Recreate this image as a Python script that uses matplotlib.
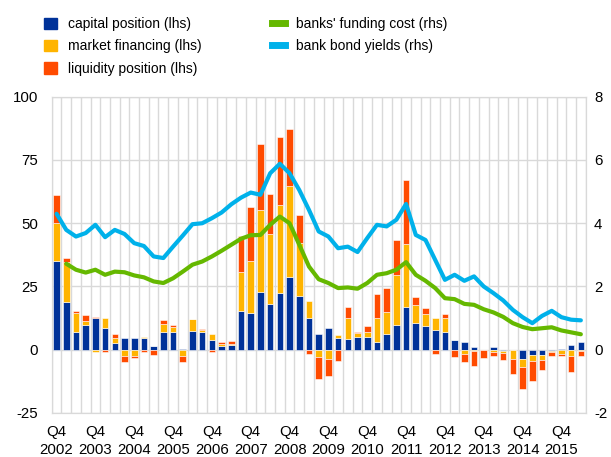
import matplotlib.pyplot as plt
import numpy as np
from matplotlib.lines import Line2D
from matplotlib.patches import Patch

plt.rcParams['font.family'] = ['Liberation Sans', 'DejaVu Sans']
plt.rcParams['axes.unicode_minus'] = False

# quarterly data, Q4 2002 .. Q2 2016
capital = [35, 19, 7, 9.9, 12.5, 8.4, 2.6, 4.5, 4.7, 4.5,
           1.6, 7.1, 7.1, 0.3, 7.5, 7.1, 3.7, 1.6, 2.0, 15.5,
           14.7, 23, 18.2, 22.6, 28.8, 21.3, 12.6, 6.2, 8.7, 4.7,
           4.2, 4.9, 5.1, 3.2, 6.2, 9.9, 16.7, 10.7, 9.3, 7.8,
           7.1, 3.9, 3.1, 1.2, 0.0, 1.0, -0.6, 0.0, -3.5, -2.0,
           -2.0, -0.3, 0.3, 1.8, 3.0]
market = [15, 15.5, 7.7, 1.6, -1.0, 4.1, 1.9, -2.6, -2.6, 0.5,
          0.0, 3.2, 2.0, -2.4, 4.7, 0.8, 2.5, 0.8, 0.4, 15.3,
          20.4, 32.3, 27.6, 34.8, 35.9, 20.8, 6.6, -3.0, -3.7, 1.1,
          8.2, 1.7, 2.0, 9.3, 8.8, 19.7, 25.1, 6.9, 4.8, 4.6,
          5.3, 0.0, -1.6, -0.5, 0.0, -0.9, -0.6, -3.8, -3.2, -2.3,
          -2.1, -0.7, -1.8, -2.6, -0.3]
liquidity = [11, 1.7, 0.6, 2.2, 0.4, -0.9, 1.7, -2.4, -0.7, -0.8,
             -2.2, 1.3, 0.8, -2.5, 0.0, 0.4, -0.9, 0.6, 1.2, 14.3,
             21.5, 26, 15.8, 26.8, 22.5, 11.1, -1.8, -8.6, -6.6, -4.6,
             4.3, 0.5, 2.2, 9.6, 9.3, 13.8, 25.3, 3.1, 2.5, -1.6,
             1.8, -2.9, -3.4, -6.0, -3.3, -1.4, -2.8, -5.8, -9.0, -8.0,
             -3.9, -1.6, -0.8, -6.1, -2.1]
funding_cost = [np.nan, 2.72, 2.53, 2.44, 2.53, 2.37, 2.47, 2.45, 2.35, 2.29,
                2.16, 2.11, 2.26, 2.47, 2.69, 2.79, 2.95, 3.13, 3.32, 3.51,
                3.62, 3.63, 3.95, 4.21, 4.00, 3.32, 2.63, 2.23, 2.11, 1.95,
                1.97, 1.93, 2.11, 2.37, 2.42, 2.53, 2.77, 2.37, 2.18, 1.95,
                1.63, 1.60, 1.45, 1.42, 1.28, 1.18, 1.04, 0.84, 0.72, 0.65,
                0.68, 0.71, 0.61, 0.55, 0.49]
bond_yields = [4.30, 3.79, 3.58, 3.69, 3.95, 3.56, 3.79, 3.66, 3.37, 3.28,
               2.95, 2.90, 3.26, 3.61, 3.97, 4.00, 4.16, 4.34, 4.60, 4.81,
               4.97, 4.90, 5.58, 5.88, 5.58, 5.05, 4.42, 3.74, 3.58, 3.21,
               3.26, 3.09, 3.53, 3.95, 3.90, 4.11, 4.61, 3.63, 3.47, 2.84,
               2.21, 2.37, 2.18, 2.32, 2.00, 1.79, 1.56, 1.26, 1.03, 0.84,
               1.07, 1.23, 1.03, 0.95, 0.93]
tick_years = ['2002', '2003', '2004', '2005', '2006', '2007', '2008',
              '2009', '2010', '2011', '2012', '2013', '2014', '2015']

c_cap = '#003299'
c_mkt = '#FFB400'
c_liq = '#FF4B00'
c_green = '#65B800'
c_blue = '#00B1EA'
grid_c = '#d9d9d9'

x = np.arange(len(capital))
cap = np.array(capital)
mkt = np.array(market)
liq = np.array(liquidity)


# stack positives upward and negatives downward
def stack(vals_list):
    pos = np.zeros(len(x))
    neg = np.zeros(len(x))
    out = []
    for v in vals_list:
        base = np.where(v >= 0, pos, neg)
        out.append(base)
        pos = pos + np.clip(v, 0, None)
        neg = neg + np.clip(v, None, 0)
    return out


bases = stack([cap, mkt, liq])

fig = plt.figure(figsize=(6.11, 4.57), dpi=100)
ax = fig.add_axes([0.0846, 0.0963, 0.874, 0.692])
ax2 = ax.twinx()

w = 0.68
for vals, base, col in zip([cap, mkt, liq], bases, [c_cap, c_mkt, c_liq]):
    ax.bar(x, vals, bottom=base, width=w, color=col, linewidth=0.4,
           edgecolor='white', zorder=3)

ax2.plot(x, funding_cost, color=c_green, lw=3, solid_capstyle='round', zorder=4)
ax2.plot(x, bond_yields, color=c_blue, lw=3, solid_capstyle='round', zorder=4)

ax.set_xlim(-0.5, len(x) - 0.5)
ax.set_ylim(-25, 100)
ax2.set_ylim(-2, 8)
ax.set_yticks([-25, 0, 25, 50, 75, 100])
ax2.set_yticks([-2, 0, 2, 4, 6, 8])

ticks = np.arange(0, len(x), 4)[:len(tick_years)]
ax.set_xticks(ticks)
ax.set_xticklabels(['Q4\n' + y for y in tick_years], fontsize=10.8,
                   linespacing=1.3)
ax.set_xticks(np.arange(-0.5, len(x), 1), minor=True)

ax.grid(axis='y', color=grid_c, lw=1, zorder=0)
ax.grid(axis='x', which='minor', color=grid_c, lw=1, zorder=0)
ax.tick_params(axis='x', which='both', length=0, pad=9)
ax.tick_params(axis='y', length=0, labelsize=10.8, pad=10)
ax2.tick_params(axis='y', length=0, labelsize=10.8, pad=6)
for a in (ax, ax2):
    for s in a.spines.values():
        s.set_color(grid_c)
ax.set_axisbelow(True)

handles = [
    Patch(color=c_cap, label='capital position (lhs)'),
    Patch(color=c_mkt, label='market financing (lhs)'),
    Patch(color=c_liq, label='liquidity position (lhs)'),
    Line2D([], [], color=c_green, lw=5, label="banks' funding cost (rhs)"),
    Line2D([], [], color=c_blue, lw=5, label='bank bond yields (rhs)'),
]
fig.legend(handles=handles, ncol=2, loc='upper left',
           bbox_to_anchor=(0.052, 0.99), frameon=False, fontsize=10,
           handlelength=0.9, handleheight=0.9, handletextpad=0.8,
           labelspacing=0.6, columnspacing=5.1)

fig.savefig('out.png', dpi=100)
